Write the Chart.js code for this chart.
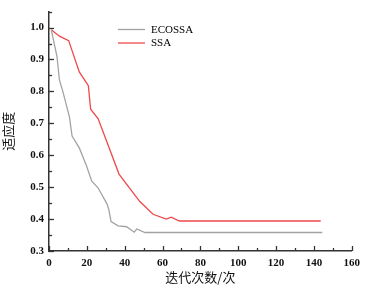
<!DOCTYPE html>
<html><head><meta charset="utf-8">
<script src="https://cdn.jsdelivr.net/npm/chart.js@4/dist/chart.umd.min.js"></script>
<style>html,body{margin:0;padding:0;background:#fff}#w{width:366px;height:285px}</style>
</head><body><div id="w"><canvas id="c"></canvas></div>
<script>
const seriesNames = ["ECOSSA", "SSA"];
const ecossaIter = [1.2, 4.2, 5.5, 7.3, 10.8, 12.2, 16, 19.8, 22.6, 25.9, 30.7, 31.6, 32.8, 36.5, 41, 45, 46.4, 50.7, 144.4];
const ecossaFit  = [0.993, 0.91, 0.836, 0.80, 0.72, 0.66, 0.623, 0.567, 0.519, 0.498, 0.447, 0.43, 0.392, 0.379, 0.376, 0.359, 0.369, 0.358, 0.358];
const ssaIter = [1.2, 5.5, 10.4, 16, 20.8, 22, 26, 37, 48, 55, 62, 64.6, 68.9, 143.6];
const ssaFit  = [0.993, 0.973, 0.959, 0.861, 0.818, 0.744, 0.714, 0.541, 0.455, 0.415, 0.40, 0.406, 0.394, 0.394];
const xTicks = [0, 20, 40, 60, 80, 100, 120, 140, 160];
const yTicks = [0.3, 0.4, 0.5, 0.6, 0.7, 0.8, 0.9, 1.0];
const xTitle = "迭代次数/次";
const yTitle = "适应度";

const colors = ["#a3a3a3", "#f0484a"];
const pts = (xs, ys) => xs.map((x, i) => ({x, y: ys[i]}));

const inwardTicks = {
  id: 'inwardTicks',
  afterDraw(chart) {
    const ctx = chart.ctx, xs = chart.scales.x, ys = chart.scales.y, a = chart.chartArea;
    ctx.save();
    ctx.strokeStyle = '#333'; ctx.lineWidth = 1.3;
    for (let v = 0; v <= 160; v += 10) {
      const p = Math.round(xs.getPixelForValue(v)) + 0.5;
      const len = v % 20 === 0 ? 5 : 3;
      ctx.beginPath(); ctx.moveTo(p, a.bottom); ctx.lineTo(p, a.bottom - len); ctx.stroke();
    }
    for (let k = 0; k <= 15; k++) {
      const v = 0.3 + k * 0.05;
      const p = Math.round(ys.getPixelForValue(v)) + 0.5;
      const len = k % 2 === 0 ? 5 : 3;
      ctx.beginPath(); ctx.moveTo(a.left, p); ctx.lineTo(a.left + len, p); ctx.stroke();
    }
    // legend
    ctx.font = '11px "Liberation Serif"';
    ctx.textBaseline = 'middle';
    chart.data.datasets.forEach((d, i) => {
      const y = 29.5 + i * 13.5;
      ctx.strokeStyle = d.borderColor; ctx.lineWidth = 1.3;
      ctx.beginPath(); ctx.moveTo(118, y); ctx.lineTo(145, y); ctx.stroke();
      ctx.fillStyle = '#000';
      ctx.fillText(d.label, 151, y + 0.5);
    });
    ctx.restore();
  }
};

new Chart(document.getElementById('c'), {
  type: 'scatter',
  data: {
    datasets: [
      {label: seriesNames[0], data: pts(ecossaIter, ecossaFit), showLine: true, borderColor: colors[0], borderWidth: 1.3, pointRadius: 0, tension: 0},
      {label: seriesNames[1], data: pts(ssaIter, ssaFit), showLine: true, borderColor: colors[1], borderWidth: 1.3, pointRadius: 0, tension: 0}
    ]
  },
  options: {
    responsive: true, maintainAspectRatio: false, animation: false,
    layout: {padding: {top: 4, right: 9, left: 0, bottom: 0}},
    plugins: {legend: {display: false}, tooltip: {enabled: false}},
    scales: {
      x: {
        type: 'linear', min: 0, max: 160,
        afterBuildTicks: s => { s.ticks = xTicks.map(v => ({value: v})); },
        afterFit: s => { s.height = 34; },
        grid: {display: false, drawTicks: false},
        border: {display: true, color: '#333', width: 1.5},
        ticks: {padding: 6, color: '#111', font: {family: '"Liberation Serif"', size: 11, weight: 'bold'}, maxRotation: 0},
        title: {display: true, text: xTitle, color: '#111', padding: {top: 0, bottom: 0}, font: {family: '"Noto Sans CJK SC"', size: 13}}
      },
      y: {
        type: 'linear', min: 0.3, max: 1.05,
        afterBuildTicks: s => { s.ticks = yTicks.map(v => ({value: v})); },
        afterFit: s => { s.width = 49; },
        grid: {display: false, drawTicks: false},
        border: {display: true, color: '#333', width: 1.5},
        ticks: {padding: 5, color: '#111', font: {family: '"Liberation Serif"', size: 11, weight: 'bold'}, callback: v => v.toFixed(1)},
        title: {display: true, text: yTitle, color: '#111', padding: {top: 0, bottom: 4}, font: {family: '"Noto Sans CJK SC"', size: 13}}
      }
    }
  },
  plugins: [inwardTicks]
});
</script>
</body></html>
